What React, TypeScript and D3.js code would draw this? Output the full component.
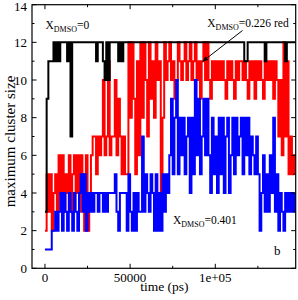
import * as d3 from "d3";

// sampled every 1000 ps, starting at t = 0
const sampleStep = 1000;

const blackSeries = [
  3, 9, 11, 11, 11, 12, 11, 12, 11, 12,
  12, 12, 12, 11, 12, 7, 12, 12, 12, 12,
  12, 12, 12, 12, 12, 12, 12, 12, 12, 12,
  11, 12, 12, 12, 11, 10, 12, 10, 12, 12,
  12, 12, 12, 11, 12, 11, 12, 12, 12, 12,
  12, 12, 12, 12, 12, 12, 12, 12, 12, 12,
  12, 12, 12, 12, 12, 12, 12, 12, 12, 12,
  12, 12, 12, 12, 12, 12, 12, 12, 12, 12,
  12, 12, 12, 12, 12, 12, 12, 12, 12, 12,
  12, 12, 12, 12, 12, 12, 12, 12, 12, 12,
  12, 12, 12, 12, 12, 12, 12, 12, 12, 12,
  12, 12, 12, 12, 12, 12, 12, 11, 11, 12,
  12, 12, 12, 12, 12, 12, 12, 12, 12, 11,
  12, 12, 12, 12, 12, 12, 12, 12, 12, 12,
  12, 11, 12, 12, 12, 12, 12, 12,
];

const redSeries = [
  2, 5, 3, 5, 2, 4, 5,
  3, 6, 4, 6, 3, 5, 4,
  6, 3, 5, 6, 4, 6, 3, 6, 5, 2, 6, 2,
  4, 6, 7,
  7, 5, 7, 6, 7, 10, 6,
  7, 11, 6, 7,
  7, 10, 6, 9, 7,
  5, 7, 5, 5, 12,
  8, 12, 9, 5, 11, 6, 12, 8, 12, 10, 7, 12, 9, 11, 8, 12,
  10, 11, 4, 8,
  12, 10, 11, 12, 10, 11, 9, 10, 12, 11,
  10, 11, 12, 10, 11, 12, 10, 11, 12, 10, 11,
  9, 11, 12, 10, 12, 10, 9, 11, 10, 11,
  10, 11, 10, 11, 10, 9, 11, 10, 11, 10,
  9, 11, 10, 11, 11, 10, 11, 10, 9, 11,
  10, 11, 9, 11, 10, 11, 10, 9, 11, 10,
  11, 10, 11, 9, 11, 10, 7, 10, 6, 12,
  7, 11, 5, 7, 5, 6, 5,
];

const blueSeries = [
  1, 1, 1, 1,
  2, 2, 3, 2,
  3, 4, 2, 4, 3,
  2, 4, 3, 2, 4, 3, 2, 4,
  5, 3, 5, 2, 4,
  3, 4, 3,
  4, 4, 3, 4, 4,
  3, 4, 3, 4,
  4, 4, 4,
  5, 3,
  2, 4,
  4, 4, 4,
  2, 5,
  3, 2, 4, 2, 4, 3, 3,
  7, 3, 5,
  4, 3, 5, 4,
  2, 5, 2, 4, 2, 5,
  3, 5, 4,
  6, 9, 5, 8, 10, 5,
  8, 6, 8, 5, 7, 8,
  4, 8, 5,
  10, 6, 9, 5, 7,
  9, 6, 9, 6,
  4, 8, 5, 7, 4, 8,
  5, 8, 4, 7, 8, 4, 6, 8, 5,
  8, 6, 7, 8, 5, 8, 6, 8,
  5, 7, 6, 5, 7,
  5, 2, 4, 6, 3, 5, 3, 6, 4,
  8,
  3, 5, 2, 4, 3, 2,
  4, 3, 4, 3, 4, 3, 4,
];

const xMajorTicks = [0, 50000, 100000];
const xTickLabels = ["0", "50000", "1e+05"];
const xMinorTicks = [25000, 75000, 125000];
const yMajorTicks = [0, 2, 4, 6, 8, 10, 12, 14];
const yMinorTicks = [1, 3, 5, 7, 9, 11, 13];

const width = 298;
const height = 300;
const margin = { top: 4.7, right: 2.3, bottom: 31.7, left: 32 };
const font = "'Liberation Serif', 'Times New Roman', serif";

const Label = ({
  x,
  y,
  rest,
}: {
  x: number;
  y: number;
  rest: string;
}) => (
  <text x={x} y={y} fontSize={11.5} fontFamily={font} fill="#000">
    X
    <tspan fontSize={8} dy={3}>
      DMSO
    </tspan>
    <tspan dy={-3}>{rest}</tspan>
  </text>
);

export default function App() {
  const xScale = d3
    .scaleLinear()
    .domain([-7600, 147200])
    .range([margin.left, width - margin.right]);
  const yScale = d3
    .scaleLinear()
    .domain([0, 14])
    .range([height - margin.bottom, margin.top]);

  const toPoints = (vals: number[]) =>
    vals.map((v, i) => ({ t: i * sampleStep, v }));

  const line = d3
    .line<{ t: number; v: number }>()
    .x((d) => xScale(d.t))
    .y((d) => yScale(d.v))
    .curve(d3.curveStepAfter);

  const x0 = margin.left;
  const x1 = width - margin.right;
  const y0 = height - margin.bottom;
  const y1 = margin.top;
  const major = 4.5;
  const minor = 2.5;

  // arrow for the red label
  const ax1 = 242.5,
    ay1 = 30.5,
    ax2 = 202.5,
    ay2 = 61.5;
  const ang = Math.atan2(ay2 - ay1, ax2 - ax1);
  const head = 6;
  const spread = 0.4;
  const headPts = [
    [ax2, ay2],
    [ax2 - head * Math.cos(ang - spread), ay2 - head * Math.sin(ang - spread)],
    [ax2 - head * Math.cos(ang + spread), ay2 - head * Math.sin(ang + spread)],
  ]
    .map((p) => p.join(","))
    .join(" ");

  return (
    <svg
      width={width}
      height={height}
      style={{ position: "absolute", left: 0, top: 0, background: "#fff" }}
    >
      <defs>
        <clipPath id="plot">
          <rect x={x0} y={y1} width={x1 - x0} height={y0 - y1} />
        </clipPath>
      </defs>

      <g clipPath="url(#plot)" fill="none" strokeWidth={2}>
        <path d={line(toPoints(redSeries)) || ""} stroke="#ff0000" />
        <path d={line(toPoints(blueSeries)) || ""} stroke="#0000ff" />
        <path d={line(toPoints(blackSeries)) || ""} stroke="#000" />
      </g>

      {/* frame */}
      <rect
        x={x0}
        y={y1}
        width={x1 - x0}
        height={y0 - y1}
        fill="none"
        stroke="#000"
        strokeWidth={1.2}
      />

      {/* x ticks, bottom and top, pointing in */}
      {xMajorTicks.map((t, i) => (
        <g key={`xm-${t}`}>
          <line x1={xScale(t)} x2={xScale(t)} y1={y0} y2={y0 - major} stroke="#000" />
          <line x1={xScale(t)} x2={xScale(t)} y1={y1} y2={y1 + major} stroke="#000" />
          <text
            x={xScale(t)}
            y={281.5}
            textAnchor="middle"
            fontSize={13}
            fontFamily={font}
          >
            {xTickLabels[i]}
          </text>
        </g>
      ))}
      {xMinorTicks.map((t) => (
        <g key={`xn-${t}`}>
          <line x1={xScale(t)} x2={xScale(t)} y1={y0} y2={y0 - minor} stroke="#000" />
          <line x1={xScale(t)} x2={xScale(t)} y1={y1} y2={y1 + minor} stroke="#000" />
        </g>
      ))}

      {/* y ticks, left and right */}
      {yMajorTicks.map((v) => (
        <g key={`ym-${v}`}>
          <line x1={x0} x2={x0 + major} y1={yScale(v)} y2={yScale(v)} stroke="#000" />
          <line x1={x1} x2={x1 - major} y1={yScale(v)} y2={yScale(v)} stroke="#000" />
          <text
            x={27}
            y={Math.max(yScale(v), 6.5)}
            dy="0.35em"
            textAnchor="end"
            fontSize={13}
            fontFamily={font}
          >
            {v}
          </text>
        </g>
      ))}
      {yMinorTicks.map((v) => (
        <g key={`yn-${v}`}>
          <line x1={x0} x2={x0 + minor} y1={yScale(v)} y2={yScale(v)} stroke="#000" />
          <line x1={x1} x2={x1 - minor} y1={yScale(v)} y2={yScale(v)} stroke="#000" />
        </g>
      ))}

      {/* axis titles */}
      <text
        x={(x0 + x1) / 2 + 0.5}
        y={290.5}
        textAnchor="middle"
        fontSize={13.5}
        fontFamily={font}
      >
        time (ps)
      </text>
      <text
        transform={`translate(14.5, ${141.5}) rotate(-90)`}
        textAnchor="middle"
        fontSize={15}
        fontFamily={font}
      >
        maximum cluster size
      </text>

      {/* annotations */}
      <Label x={45.5} y={29} rest="=0" />
      <Label x={207.3} y={27} rest="=0.226 red" />
      <Label x={173} y={224} rest="=0.401" />
      <line x1={ax1} y1={ay1} x2={ax2} y2={ay2} stroke="#000" strokeWidth={1} />
      <polygon points={headPts} fill="#000" />
      <text x={274} y={255} fontSize={13} fontFamily={font}>
        b
      </text>
    </svg>
  );
}
